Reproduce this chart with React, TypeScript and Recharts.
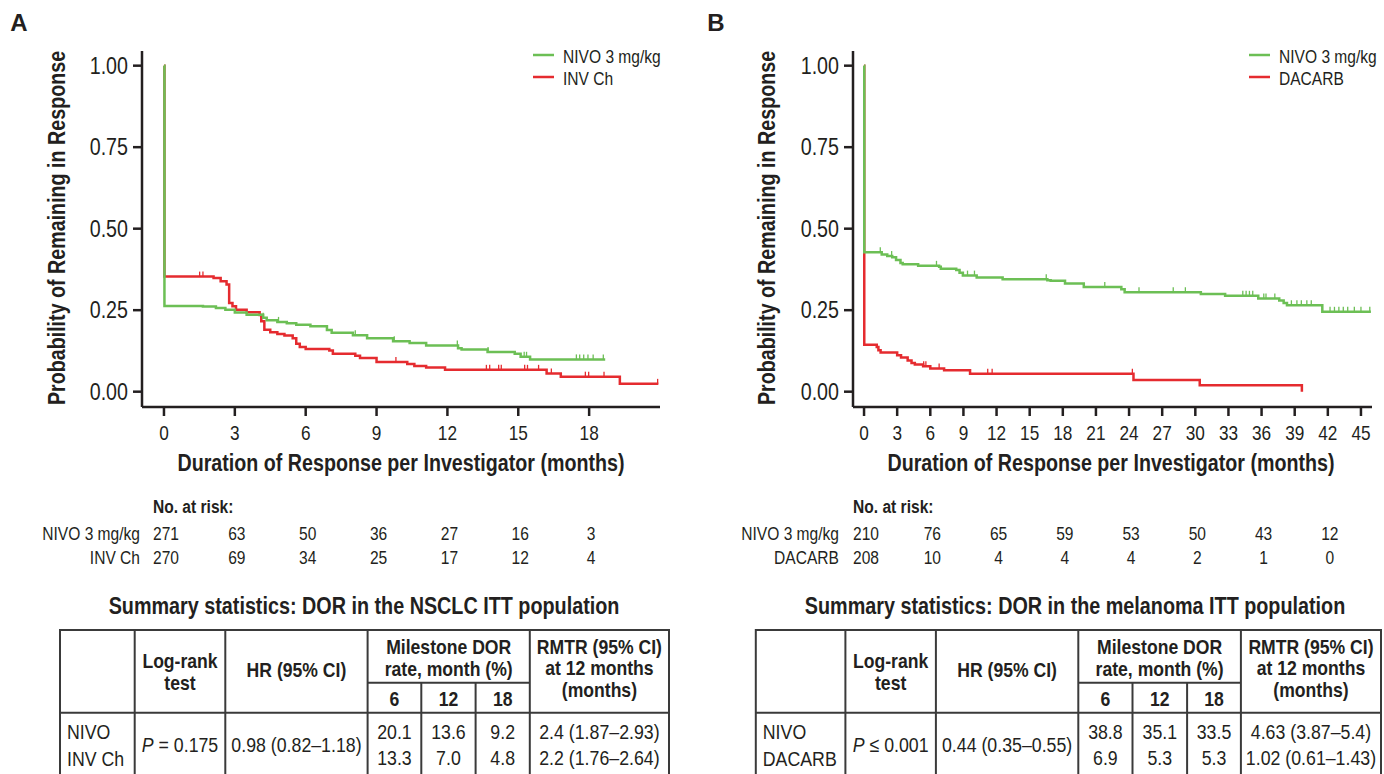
import { ComposedChart, Line, Scatter, XAxis, YAxis } from "recharts";

// no narrow face installed, so Liberation Sans is squeezed horizontally
const FONT = '"Liberation Sans", Arial, sans-serif';
const NARROW = 0.82;
const GREEN = "#6cbf55";
const RED = "#e52b2f";
const INK = "#231f20";
const RULE = "#3a3a3a";

// ---- panel A: NSCLC (months, probability) ----
const nsclcNivo = [
  [0, 1], [0.02, 0.263], [1.65, 0.261], [2.2, 0.257], [2.6, 0.251], [3.0, 0.243],
  [3.5, 0.236], [4.2, 0.227], [4.35, 0.219], [4.8, 0.214], [5.2, 0.21], [5.6, 0.205],
  [6.2, 0.201], [6.9, 0.189], [7.1, 0.181], [8.0, 0.173], [8.6, 0.164], [9.7, 0.155],
  [10.4, 0.149], [11.1, 0.142], [12.45, 0.133], [12.6, 0.129], [13.7, 0.122],
  [14.85, 0.116], [15.1, 0.107], [15.5, 0.099], [18.68, 0.099],
];
const nsclcChemo = [
  [0, 1], [0.02, 0.353], [2.1, 0.349], [2.4, 0.339], [2.65, 0.329], [2.76, 0.272],
  [2.9, 0.262], [3.05, 0.251], [3.5, 0.244], [4.05, 0.235], [4.12, 0.216], [4.25, 0.19],
  [4.5, 0.182], [4.8, 0.177], [5.1, 0.172], [5.45, 0.164], [5.6, 0.147], [5.75, 0.137],
  [6.0, 0.131], [7.0, 0.126], [7.15, 0.116], [8.1, 0.11], [8.3, 0.103], [9.0, 0.091],
  [10.3, 0.085], [10.6, 0.079], [11.1, 0.074], [11.9, 0.067], [16.2, 0.056],
  [16.8, 0.046], [19.3, 0.024], [20.93, 0.024],
];
const nsclcNivoCensor = [4.2, 4.85, 6.9, 8.1, 9.75, 12.42, 13.72, 15.25, 15.35, 17.46, 17.6, 17.77, 17.95, 18.17, 18.6];
const nsclcChemoCensor = [1.51, 1.65, 9.82, 13.65, 13.79, 14.17, 14.28, 15.27, 15.39, 15.86, 16.4, 17.84, 17.98, 18.63, 20.9];

// ---- panel B: melanoma ----
const melNivo = [
  [0, 1], [0.02, 0.428], [1.6, 0.421], [2.1, 0.416], [2.55, 0.412], [2.9, 0.404],
  [3.3, 0.395], [3.5, 0.391], [4.9, 0.386], [6.8, 0.383], [6.95, 0.377], [8.35, 0.373],
  [8.65, 0.365], [8.95, 0.356], [10.2, 0.35], [12.55, 0.345], [16.6, 0.342],
  [16.9, 0.34], [18.2, 0.332], [19.9, 0.321], [23.3, 0.314], [23.6, 0.305],
  [30.5, 0.3], [32.7, 0.294], [35.7, 0.286], [37.6, 0.28], [38.0, 0.272],
  [38.3, 0.265], [41.5, 0.245], [45.9, 0.245],
];
const melDacarb = [
  [0, 1], [0.02, 0.144], [1.15, 0.137], [1.3, 0.127], [1.5, 0.12], [3.0, 0.112],
  [3.35, 0.105], [3.95, 0.096], [4.3, 0.088], [4.6, 0.083], [5.35, 0.078], [6.0, 0.071],
  [7.25, 0.066], [9.6, 0.055], [24.4, 0.036], [30.4, 0.02], [39.65, 0],
];
const melNivoCensor = [
  1.47, 2.5, 6.56, 9.37, 10.0, 16.5, 21.8, 24.9, 28.0, 29.1, 34.3, 34.6, 34.9, 35.2,
  36.2, 36.4, 37.2, 38.7, 39.2, 39.6, 40.1, 40.5, 42.2, 42.6, 43.0, 43.4, 43.8, 44.4, 45.0, 45.8,
];
const melDacarbCensor = [5.4, 5.6, 6.8, 11.2, 11.6, 24.3];

const probTicks = [0, 0.25, 0.5, 0.75, 1];
const monthTicksA = [0, 3, 6, 9, 12, 15, 18];
const monthTicksB = [0, 3, 6, 9, 12, 15, 18, 21, 24, 27, 30, 33, 36, 39, 42, 45];

// numbers at risk
const riskMonthsA = [0, 3, 6, 9, 12, 15, 18];
const riskNivoA = [271, 63, 50, 36, 27, 16, 3];
const riskChemoA = [270, 69, 34, 25, 17, 12, 4];
const riskMonthsB = [0, 6, 12, 18, 24, 30, 36, 42];
const riskNivoB = [210, 76, 65, 59, 53, 50, 43, 12];
const riskDacarbB = [208, 10, 4, 4, 4, 2, 1, 0];

// summary tables
const milestonesA = [["20.1", "13.3"], ["13.6", "7.0"], ["9.2", "4.8"]];
const rmtrA = ["2.4 (1.87\u20132.93)", "2.2 (1.76\u20132.64)"];
const milestonesB = [["38.8", "6.9"], ["35.1", "5.3"], ["33.5", "5.3"]];
const rmtrB = ["4.63 (3.87\u20135.4)", "1.02 (0.61\u20131.43)"];

const toPts = (arr: number[][]) => arr.map(([t, s]) => ({ t, s }));
const valueAt = (curve: number[][], t: number) => {
  let v = curve[0][1];
  for (const [ct, cs] of curve) if (ct <= t) v = cs;
  return v;
};
const censorPts = (curve: number[][], times: number[]) => times.map((t) => ({ t, s: valueAt(curve, t) }));

const tickShape = (color: string) => (p: any) => (
  <line x1={p.cx} x2={p.cx} y1={p.cy - 5} y2={p.cy} stroke={color} strokeWidth={1.3} />
);

const Txt = ({ x, y, size = 20, bold = false, anchor = "middle", squeeze = NARROW, dy, children }: any) => (
  <g transform={`translate(${x},${y}) scale(${squeeze},1)`}>
    <text x={0} y={0} dy={dy} fontSize={size} fontWeight={bold ? 700 : 400} textAnchor={anchor}
      dominantBaseline={dy ? undefined : "central"} fontFamily={FONT} fill={INK}>
      {children}
    </text>
  </g>
);

const MonthTick = (props: any) => (
  <Txt x={props.x} y={props.y} size={21} dy="0.71em">{props.payload.value}</Txt>
);
const ProbTick = (props: any) => (
  <Txt x={props.x} y={props.y} size={24} anchor="end">{Number(props.payload.value).toFixed(2)}</Txt>
);

type PanelProps = {
  left: number;
  width: number;
  yWidth: number;
  right: number;
  xDomain: [number, number];
  xTicks: number[];
  green: number[][];
  red: number[][];
  greenCensor: number[];
  redCensor: number[];
};

const KMPanel = (p: PanelProps) => (
  <div style={{ position: "absolute", left: p.left, top: 0 }}>
    <ComposedChart width={p.width} height={480} margin={{ top: 51, right: p.right, bottom: 0, left: 0 }}>
      <XAxis
        type="number"
        dataKey="t"
        domain={p.xDomain}
        allowDataOverflow
        ticks={p.xTicks}
        interval={0}
        height={73}
        tickSize={9}
        tickMargin={9}
        axisLine={{ stroke: INK, strokeWidth: 2.5 }}
        tickLine={{ stroke: INK, strokeWidth: 2.5 }}
        tick={MonthTick}
      />
      <YAxis
        type="number"
        dataKey="s"
        domain={[-0.047, 1.045]}
        allowDataOverflow
        ticks={probTicks}
        interval={0}
        width={p.yWidth}
        tickSize={9}
        tickMargin={5}
        axisLine={{ stroke: INK, strokeWidth: 2.5 }}
        tickLine={{ stroke: INK, strokeWidth: 2.5 }}
        tick={ProbTick}
      />
      <Line data={toPts(p.red)} dataKey="s" type="stepAfter" stroke={RED} strokeWidth={2.5} dot={false} isAnimationActive={false} />
      <Scatter data={censorPts(p.red, p.redCensor)} dataKey="s" fill={RED} shape={tickShape(RED)} isAnimationActive={false} />
      <Line data={toPts(p.green)} dataKey="s" type="stepAfter" stroke={GREEN} strokeWidth={2.5} dot={false} isAnimationActive={false} />
      <Scatter data={censorPts(p.green, p.greenCensor)} dataKey="s" fill={GREEN} shape={tickShape(GREEN)} isAnimationActive={false} />
    </ComposedChart>
  </div>
);

// month -> page x, for the at-risk rows (same geometry as the panels)
const xA = (m: number) => 142 + ((m + 0.93) * 518) / 21.93;
const xB = (m: number) => 853 + ((m + 1) * 519) / 47;

const HEAD = { size: 20, bold: true, squeeze: 0.88 };
const BODY = { size: 21, squeeze: 0.845 };

const SummaryTable = ({ cols, arms, logrank, hr, milestones, rmtr }: any) => {
  const [c0, c1, c2, c3, c4, c5, c6, c7] = cols;
  const mid = (a: number, b: number) => (a + b) / 2;
  const bottom = 780;
  return (
    <g>
      <line x1={c0} x2={c7} y1={630} y2={630} stroke={RULE} strokeWidth={2} />
      <line x1={c3} x2={c6} y1={682.7} y2={682.7} stroke={RULE} strokeWidth={2} />
      <line x1={c0} x2={c7} y1={712.7} y2={712.7} stroke={RULE} strokeWidth={2} />
      {[c0, c1, c2, c3, c6, c7].map((c: number, i: number) => (
        <line key={i} x1={c} x2={c} y1={629} y2={bottom} stroke={RULE} strokeWidth={2} />
      ))}
      {[c4, c5].map((c: number, i: number) => (
        <line key={i} x1={c} x2={c} y1={682.7} y2={bottom} stroke={RULE} strokeWidth={2} />
      ))}
      <Txt x={mid(c1, c2)} y={661} {...HEAD}>Log-rank</Txt>
      <Txt x={mid(c1, c2)} y={683} {...HEAD}>test</Txt>
      <Txt x={mid(c2, c3)} y={670} {...HEAD}>HR (95% CI)</Txt>
      <Txt x={mid(c3, c6)} y={647} {...HEAD}>Milestone DOR</Txt>
      <Txt x={mid(c3, c6)} y={669} {...HEAD}>rate, month (%)</Txt>
      <Txt x={mid(c3, c4)} y={699} {...HEAD}>6</Txt>
      <Txt x={mid(c4, c5)} y={699} {...HEAD}>12</Txt>
      <Txt x={mid(c5, c6)} y={699} {...HEAD}>18</Txt>
      <Txt x={mid(c6, c7)} y={647} {...HEAD}>RMTR (95% CI)</Txt>
      <Txt x={mid(c6, c7)} y={668} {...HEAD}>at 12 months</Txt>
      <Txt x={mid(c6, c7)} y={690} {...HEAD}>(months)</Txt>
      <Txt x={c0 + 7} y={731} {...BODY} anchor="start">{arms[0]}</Txt>
      <Txt x={c0 + 7} y={758} {...BODY} anchor="start">{arms[1]}</Txt>
      <Txt x={mid(c1, c2)} y={744} {...BODY}>
        <tspan fontStyle="italic">P</tspan>
        {logrank}
      </Txt>
      <Txt x={mid(c2, c3)} y={744} {...BODY}>{hr}</Txt>
      {milestones.map((pair: string[], i: number) => {
        const cx = mid(cols[3 + i], cols[4 + i]);
        return (
          <g key={i}>
            <Txt x={cx} y={731} {...BODY}>{pair[0]}</Txt>
            <Txt x={cx} y={757} {...BODY}>{pair[1]}</Txt>
          </g>
        );
      })}
      <Txt x={mid(c6, c7)} y={731} {...BODY}>{rmtr[0]}</Txt>
      <Txt x={mid(c6, c7)} y={757} {...BODY}>{rmtr[1]}</Txt>
    </g>
  );
};

const Legend = ({ x, labels }: { x: number; labels: [string, string] }) => (
  <g>
    <line x1={x} x2={x + 21} y1={55} y2={55} stroke={GREEN} strokeWidth={2.5} />
    <line x1={x} x2={x + 21} y1={77} y2={77} stroke={RED} strokeWidth={2.5} />
    <Txt x={x + 30} y={56} size={19} anchor="start">{labels[0]}</Txt>
    <Txt x={x + 30} y={78} size={19} anchor="start">{labels[1]}</Txt>
  </g>
);

const RiskRows = ({ labelX, x, months, rows, names }: any) => (
  <g>
    <Txt x={x(0) - 11} y={506} size={19} bold anchor="start">No. at risk:</Txt>
    {rows.map((row: number[], r: number) => (
      <g key={r}>
        <Txt x={labelX} y={533 + r * 24} size={19} anchor="end">{names[r]}</Txt>
        {row.map((n: number, i: number) => (
          <Txt key={i} x={x(months[i]) + 2} y={533 + r * 24} size={19}>{n}</Txt>
        ))}
      </g>
    ))}
  </g>
);

const App = () => (
  <div style={{ position: "absolute", left: 0, top: 0, width: 1384, height: 774, background: "#fff", overflow: "hidden" }}>
    <KMPanel left={0} width={692} yWidth={142} right={32} xDomain={[-0.93, 21]} xTicks={monthTicksA}
      green={nsclcNivo} red={nsclcChemo} greenCensor={nsclcNivoCensor} redCensor={nsclcChemoCensor} />
    <KMPanel left={700} width={684} yWidth={153} right={12} xDomain={[-1, 46]} xTicks={monthTicksB}
      green={melNivo} red={melDacarb} greenCensor={melNivoCensor} redCensor={melDacarbCensor} />
    <svg width={1384} height={774} style={{ position: "absolute", left: 0, top: 0, pointerEvents: "none" }}>
      <Txt x={19} y={22} size={24} bold squeeze={1}>A</Txt>
      <Txt x={716} y={22} size={24} bold squeeze={1}>B</Txt>
      <g transform="translate(57,228) rotate(-90)">
        <Txt x={0} y={0} size={24} bold>Probability of Remaining in Response</Txt>
      </g>
      <g transform="translate(767,228) rotate(-90)">
        <Txt x={0} y={0} size={24} bold>Probability of Remaining in Response</Txt>
      </g>
      <Txt x={401} y={463} size={24} bold>Duration of Response per Investigator (months)</Txt>
      <Txt x={1111} y={463} size={24} bold>Duration of Response per Investigator (months)</Txt>
      <Legend x={533} labels={["NIVO 3 mg/kg", "INV Ch"]} />
      <Legend x={1249} labels={["NIVO 3 mg/kg", "DACARB"]} />
      <RiskRows labelX={140} x={xA} months={riskMonthsA} rows={[riskNivoA, riskChemoA]} names={["NIVO 3 mg/kg", "INV Ch"]} />
      <RiskRows labelX={839} x={xB} months={riskMonthsB} rows={[riskNivoB, riskDacarbB]} names={["NIVO 3 mg/kg", "DACARB"]} />
      <Txt x={364} y={606} size={23} bold squeeze={0.86}>Summary statistics: DOR in the NSCLC ITT population</Txt>
      <Txt x={1075} y={606} size={23} bold squeeze={0.86}>Summary statistics: DOR in the melanoma ITT population</Txt>
      <SummaryTable cols={[60, 134.7, 225.3, 367.6, 421.3, 475.6, 529.8, 669]} arms={["NIVO", "INV Ch"]}
        logrank={" = 0.175"} hr={"0.98 (0.82\u20131.18)"} milestones={milestonesA} rmtr={rmtrA} />
      <SummaryTable cols={[755.8, 845.4, 935.9, 1078.3, 1132.5, 1187.1, 1240.9, 1381]} arms={["NIVO", "DACARB"]}
        logrank={" \u2264 0.001"} hr={"0.44 (0.35\u20130.55)"} milestones={milestonesB} rmtr={rmtrB} />
    </svg>
  </div>
);

export default App;
